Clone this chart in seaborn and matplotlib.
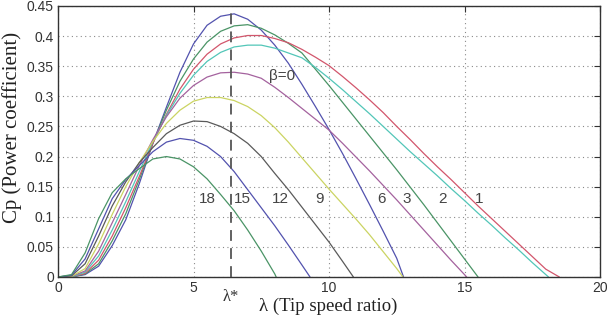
import numpy as np
import pandas as pd
import matplotlib
matplotlib.use("Agg")
import matplotlib.pyplot as plt
import seaborn as sns

# ---------------- data ----------------
betas = ["0", "1", "2", "3", "6", "9", "12", "15", "18"]

lam_b0 = [0, 0.5, 1, 1.5, 2, 2.5, 3, 3.5, 4, 4.5, 5, 5.5, 6, 6.5, 7, 7.5, 8, 8.5, 9, 9.5, 10, 10.5, 11, 11.5, 12, 12.5, 12.75]
cp_b0 = [0, 0.0, 0.004, 0.018, 0.052, 0.095, 0.155, 0.222, 0.282, 0.34, 0.387, 0.418, 0.433, 0.437, 0.428, 0.41, 0.385, 0.355, 0.32, 0.283, 0.245, 0.205, 0.163, 0.12, 0.076, 0.031, 0.0]

lam_b1 = [0, 0.5, 1, 1.5, 2, 2.5, 3, 3.5, 4, 4.5, 5, 5.5, 6, 6.5, 7, 7.5, 8, 8.5, 9, 9.5, 10, 10.5, 11, 11.5, 12, 12.5, 13, 13.5, 14, 14.5, 15, 15.5]
cp_b1 = [0, 0.0, 0.005, 0.022, 0.06, 0.105, 0.162, 0.222, 0.277, 0.325, 0.362, 0.39, 0.408, 0.417, 0.419, 0.413, 0.402, 0.388, 0.372, 0.345, 0.318, 0.29, 0.262, 0.234, 0.206, 0.178, 0.149, 0.12, 0.09, 0.06, 0.03, 0.0]

lam_b2 = [0, 0.5, 1, 1.5, 2, 2.5, 3, 3.5, 4, 4.5, 5, 5.5, 6, 6.5, 7, 7.5, 8, 8.5, 9, 9.5, 10, 10.5, 11, 11.5, 12, 12.5, 13, 13.5, 14, 14.5, 15, 15.5, 16, 16.5, 17, 17.5, 18, 18.5]
cp_b2 = [0, 0.0, 0.006, 0.028, 0.068, 0.115, 0.167, 0.222, 0.27, 0.312, 0.345, 0.37, 0.387, 0.397, 0.401, 0.401, 0.396, 0.389, 0.378, 0.365, 0.351, 0.333, 0.314, 0.294, 0.273, 0.25, 0.228, 0.205, 0.183, 0.162, 0.14, 0.118, 0.097, 0.076, 0.055, 0.034, 0.013, 0.0]

lam_b3 = [0, 0.5, 1, 1.5, 2, 2.5, 3, 3.5, 4, 4.5, 5, 5.5, 6, 6.5, 7, 7.5, 8, 8.5, 9, 9.5, 10, 10.5, 11, 11.5, 12, 12.5, 13, 13.5, 14, 14.5, 15, 15.5, 16, 16.5, 17, 17.5, 18, 18.1]
cp_b3 = [0, 0.0, 0.008, 0.035, 0.078, 0.125, 0.175, 0.225, 0.268, 0.305, 0.335, 0.358, 0.373, 0.382, 0.385, 0.385, 0.38, 0.372, 0.364, 0.348, 0.33, 0.311, 0.291, 0.271, 0.25, 0.229, 0.208, 0.188, 0.168, 0.147, 0.127, 0.106, 0.086, 0.065, 0.045, 0.024, 0.004, 0.0]

lam_b6 = [0, 0.5, 1, 1.5, 2, 2.5, 3, 3.5, 4, 4.5, 5, 5.5, 6, 6.5, 7, 7.5, 8, 8.5, 9, 9.5, 10, 10.5, 11, 11.5, 12, 12.5, 13, 13.5, 14, 14.5, 15, 15.08]
cp_b6 = [0, 0.001, 0.01, 0.043, 0.09, 0.137, 0.185, 0.228, 0.266, 0.297, 0.318, 0.332, 0.339, 0.34, 0.337, 0.33, 0.315, 0.298, 0.28, 0.262, 0.244, 0.222, 0.199, 0.176, 0.152, 0.128, 0.103, 0.078, 0.053, 0.028, 0.004, 0.0]

lam_b9 = [0, 0.5, 1, 1.5, 2, 2.5, 3, 3.5, 4, 4.5, 5, 5.5, 6, 6.5, 7, 7.5, 8, 8.5, 9, 9.5, 10, 10.5, 11, 11.5, 12, 12.5, 12.73]
cp_b9 = [0, 0.001, 0.014, 0.055, 0.104, 0.15, 0.19, 0.225, 0.255, 0.277, 0.292, 0.298, 0.298, 0.293, 0.283, 0.268, 0.248, 0.224, 0.198, 0.172, 0.146, 0.121, 0.096, 0.07, 0.042, 0.014, 0.0]

lam_b12 = [0, 0.5, 1, 1.5, 2, 2.5, 3, 3.5, 4, 4.5, 5, 5.5, 6, 6.5, 7, 7.5, 8, 8.5, 9, 9.5, 10, 10.5, 10.9]
cp_b12 = [0, 0.002, 0.022, 0.068, 0.118, 0.158, 0.19, 0.215, 0.238, 0.252, 0.259, 0.258, 0.25, 0.238, 0.222, 0.2, 0.172, 0.145, 0.116, 0.087, 0.058, 0.026, 0.0]

lam_b15 = [0, 0.5, 1, 1.5, 2, 2.5, 3, 3.5, 4, 4.5, 5, 5.5, 6, 6.5, 7, 7.5, 8, 8.5, 9, 9.3]
cp_b15 = [0, 0.003, 0.03, 0.08, 0.13, 0.162, 0.185, 0.208, 0.224, 0.23, 0.227, 0.217, 0.2, 0.175, 0.145, 0.115, 0.085, 0.053, 0.02, 0.0]

lam_b18 = [0, 0.5, 1, 1.5, 2, 2.5, 3, 3.5, 4, 4.5, 5, 5.5, 6, 6.5, 7, 7.5, 8, 8.05]
cp_b18 = [0, 0.004, 0.04, 0.097, 0.14, 0.163, 0.18, 0.196, 0.2, 0.196, 0.183, 0.163, 0.137, 0.11, 0.078, 0.043, 0.005, 0.0]

lam_series = [lam_b0, lam_b1, lam_b2, lam_b3, lam_b6, lam_b9, lam_b12, lam_b15, lam_b18]
cp_series = [cp_b0, cp_b1, cp_b2, cp_b3, cp_b6, cp_b9, cp_b12, cp_b15, cp_b18]

curve_labels = ["18", "15", "12", "9", "6", "3", "2", "1"]
curve_label_x = [5.5, 6.8, 8.2, 9.65, 11.95, 12.85, 14.2, 15.55]
beta0_label = "β=0"
lam_star = 6.4

xticks = [0, 5, 10, 15, 20]
yticks = [0, 0.05, 0.1, 0.15, 0.2, 0.25, 0.3, 0.35, 0.4, 0.45]
ytick_labels = ["0", "0.05", "0.1", "0.15", "0.2", "0.25", "0.3", "0.35", "0.4", "0.45"]

colors = ["#5252ae", "#4a9466", "#d2566c", "#52c6b8", "#a4629e",
          "#cbd462", "#5a5a5a", "#5252ae", "#4a9466"]

# ---------------- build table ----------------
rows = []
for b, lx, cy in zip(betas, lam_series, cp_series):
    for l, c in zip(lx, cy):
        rows.append((b, l, c))
df = pd.DataFrame(rows, columns=["beta", "lam", "cp"])

# ---------------- plot ----------------
sns.set_style("white")
plt.rcParams["font.family"] = ["Liberation Sans", "DejaVu Sans"]

fig = plt.figure(figsize=(6.07, 3.15), dpi=100)
ax = fig.add_axes([58 / 607, 1 - 277 / 315, 542 / 607, 271 / 315])

sns.lineplot(data=df, x="lam", y="cp", hue="beta", hue_order=betas,
             palette=colors, estimator=None, sort=False, legend=False,
             linewidth=0.9, ax=ax)

ax.set_xlim(0, 20)
ax.set_ylim(0, 0.45)
ax.set_xticks(xticks)
ax.set_yticks(yticks)
ax.set_yticklabels(ytick_labels)
ax.grid(True, linestyle=(0, (1, 3)), color="#8a8a8a", linewidth=0.8)
ax.tick_params(direction="in", top=True, right=True, length=4, width=0.8,
               labelsize=10, colors="#333333", pad=3)
for s in ax.spines.values():
    s.set_color("#333333")
    s.set_linewidth(1.0)
ax.set_xlabel("")
ax.set_ylabel("")

ax.axvline(lam_star, color="#555555", linestyle=(0, (6, 4)), linewidth=1.3, zorder=3)

for t, x in zip(curve_labels, curve_label_x):
    ax.text(x, 0.13, t, fontsize=11, color="#444444", ha="center", va="center")
ax.text(8.25, 0.334, beta0_label, fontsize=11, color="#444444", ha="center", va="center")

serif = ["Liberation Serif", "DejaVu Serif"]
fig.text(231 / 607, 1 - 297 / 315, "λ*", family=serif, fontsize=12,
         color="#333333", ha="center", va="center")
fig.text(328 / 607, 0.0, "λ (Tip speed ratio)", family=serif, fontsize=13.5,
         color="#222222", ha="center", va="bottom")
fig.text(12 / 607, 1 - 127 / 315, "Cp (Power coefficient)", family=serif,
         fontsize=15, color="#222222", ha="center", va="center", rotation=90)

fig.savefig("out.png", dpi=100)
